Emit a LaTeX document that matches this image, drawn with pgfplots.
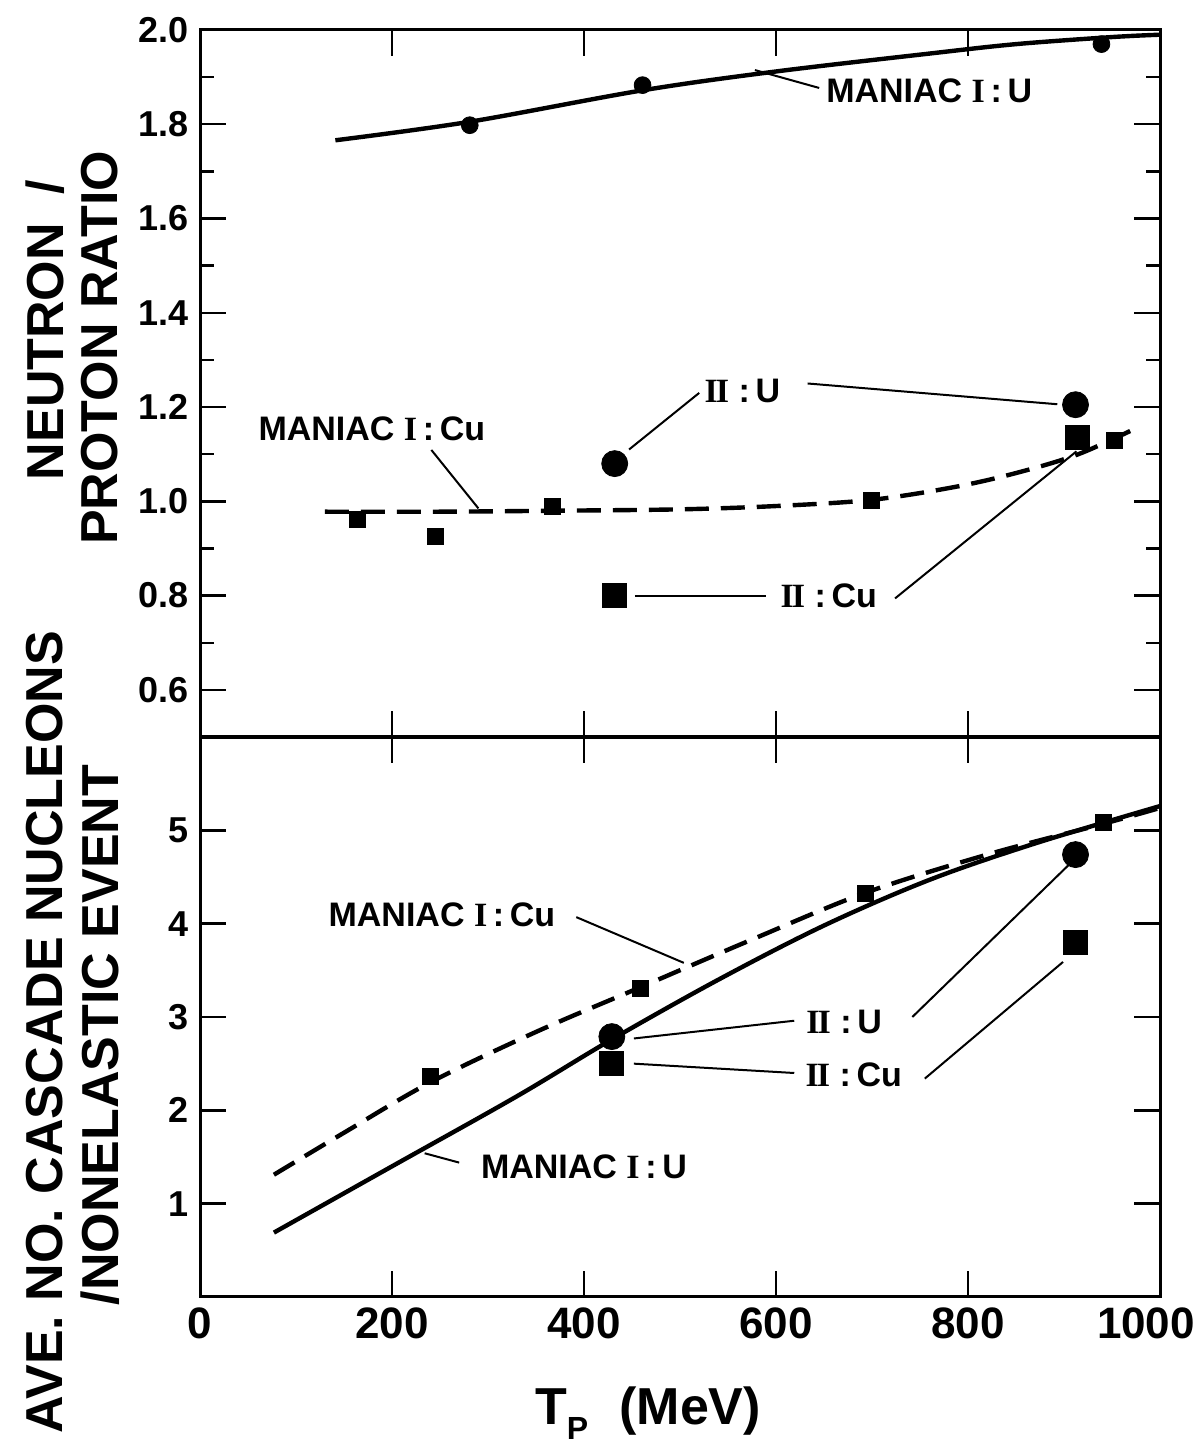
\documentclass[border=0pt]{standalone}
\usepackage{fontspec}
\setmainfont{Liberation Sans}
\newfontfamily\romfont{Liberation Serif}
\usepackage{pgfplots}
\pgfplotsset{compat=1.18}

% serif roman numerals used in the curve labels
\newcommand{\RI}{{\romfont\bfseries I}}
\newcommand{\RII}{{\romfont\bfseries I\kern-0.06em I}}
\newcommand{\lab}{\bfseries\fontsize{17}{17}\selectfont}

\tikzset{leader/.style={black, line width=1pt}}
\pgfplotsset{
  panel/.style={
    scale only axis, width=480pt,
    xmin=0, xmax=1000,
    axis line style={line width=1.5pt},
    tick style={black, line width=1.2pt},
    tick align=inside,
    major tick length=13pt, minor tick length=7pt,
    clip=false,
    /pgf/number format/assume math mode=true,
    /pgf/number format/set thousands separator={},
  },
  curve/.style={black, line width=2.2pt, smooth, tension=0.55, no markers},
  dashcurve/.style={curve, dash pattern=on 12pt off 6pt},
  smallsq/.style={only marks, mark=square*, mark size=4pt, black},
  bigsq/.style={only marks, mark=square*, mark size=6pt, black},
  smallci/.style={only marks, mark=*, mark size=4.2pt, black},
  bigci/.style={only marks, mark=*, mark size=6.5pt, black},
}

\begin{document}
\begin{tikzpicture}
\useasboundingbox (0pt,0pt) rectangle (596.5pt,723.5pt);

% ---------------- lower panel: cascade nucleons per event ----------------
\begin{axis}[panel, at={(100pt,75pt)}, anchor=south west, height=280pt,
  ymin=0, ymax=6,
  ytick={1,2,3,4,5},
  xtick={0,200,400,600,800,1000},
  xticklabels={0,200,400,600,800,{1000\hspace*{14pt}}},
  yticklabel style={font=\bfseries\fontsize{18}{18}\selectfont, xshift=-2pt},
  xticklabel style={font=\bfseries\fontsize{22}{22}\selectfont, yshift=-2pt},
]
% MANIAC I : U
\addplot[curve] coordinates {(77,0.69) (200,1.40) (330,2.15) (429,2.76) (540,3.40) (650,3.98) (760,4.47) (870,4.86) (1000,5.26)};
% MANIAC I : Cu
\addplot[dashcurve] coordinates {(77,1.31) (150,1.76) (240,2.30) (350,2.84) (459,3.32) (575,3.83) (693,4.33) (820,4.74) (941,5.07) (1000,5.24)};
\addplot[smallsq] coordinates {(240,2.36) (459,3.31) (693,4.32) (941,5.08)};
% MANIAC II
\addplot[bigci] coordinates {(429,2.79) (912,4.74)};
\addplot[bigsq] coordinates {(429,2.50) (912,3.80)};

\node[font=\lab] at (axis cs:252,4.09) {MANIAC \RI\,:\,Cu};
\draw[leader] (axis cs:392,4.07) -- (axis cs:504,3.58);
\node[font=\lab] at (axis cs:671,2.95) {\RII\ :\,U};
\draw[leader] (axis cs:452,2.77) -- (axis cs:619,2.96);
\draw[leader] (axis cs:742,3.00) -- (axis cs:905,4.63);
\node[font=\lab] at (axis cs:681,2.38) {\RII\ :\,Cu};
\draw[leader] (axis cs:452,2.50) -- (axis cs:619,2.40);
\draw[leader] (axis cs:755,2.34) -- (axis cs:899,3.59);
\node[font=\lab] at (axis cs:400,1.40) {MANIAC \RI\,:\,U};
\draw[leader] (axis cs:234,1.54) -- (axis cs:270,1.44);
\end{axis}

% ---------------- upper panel: neutron / proton ratio ----------------
\begin{axis}[panel, at={(100pt,355pt)}, anchor=south west, height=353.5pt,
  ymin=0.5, ymax=2.0,
  ytick={0.6,0.8,1.0,1.2,1.4,1.6,1.8,2.0},
  minor ytick={0.7,0.9,1.1,1.3,1.5,1.7,1.9},
  xtick={200,400,600,800}, xticklabels={},
  yticklabel style={font=\bfseries\fontsize{18}{18}\selectfont, xshift=-2pt,
    /pgf/number format/.cd, fixed, fixed zerofill, precision=1},
]
% MANIAC I : U
\addplot[curve] coordinates {(141,1.766) (280,1.805) (461,1.872) (600,1.912) (760,1.950) (850,1.970) (950,1.985) (1000,1.990)};
\addplot[smallci] coordinates {(281,1.798) (461,1.883) (939,1.970)};
% MANIAC I : Cu
\addplot[dashcurve] coordinates {(130,0.978) (250,0.978) (367,0.980) (500,0.983) (600,0.990) (699,1.003) (785,1.030) (850,1.060) (915,1.100) (980,1.160)};
\addplot[smallsq] coordinates {(164,0.961) (245,0.925) (367,0.990) (699,1.003) (953,1.130)};
% MANIAC II
\addplot[bigci] coordinates {(432,1.080) (912,1.205)};
\addplot[bigsq] coordinates {(432,0.800) (914,1.136)};

\node[font=\lab, anchor=west] at (axis cs:645,1.872) {MANIAC \RI\,:\,U};
\draw[leader] (axis cs:578,1.915) -- (axis cs:645,1.877);
\node[font=\lab] at (axis cs:565,1.235) {\RII\ :\,U};
\draw[leader] (axis cs:447,1.110) -- (axis cs:520,1.230);
\draw[leader] (axis cs:633,1.250) -- (axis cs:893,1.206);
\node[font=\lab] at (axis cs:179,1.153) {MANIAC \RI\,:\,Cu};
\draw[leader] (axis cs:241,1.109) -- (axis cs:290,0.985);
\node[font=\lab] at (axis cs:655,0.800) {\RII\ :\,Cu};
\draw[leader] (axis cs:453,0.800) -- (axis cs:590,0.800);
\draw[leader] (axis cs:724,0.794) -- (axis cs:913,1.106);
\end{axis}

% axis titles
\begin{scope}[every node/.style={font=\bfseries\fontsize{26}{26}\selectfont, rotate=90}]
\node at (22.5pt,558.5pt) {NEUTRON\ \ /};
\node at (50pt,549.5pt) {PROTON RATIO};
\node at (22.5pt,207.5pt) {AVE.\ NO.\ CASCADE NUCLEONS};
\node at (50pt,206pt) {/NONELASTIC EVENT};
\end{scope}
\node[font=\bfseries\fontsize{26}{26}\selectfont] at (324pt,17pt)
  {T\raisebox{-0.3em}{\fontsize{16}{16}\selectfont P}\hspace{0.6em}(MeV)};
\end{tikzpicture}
\end{document}
